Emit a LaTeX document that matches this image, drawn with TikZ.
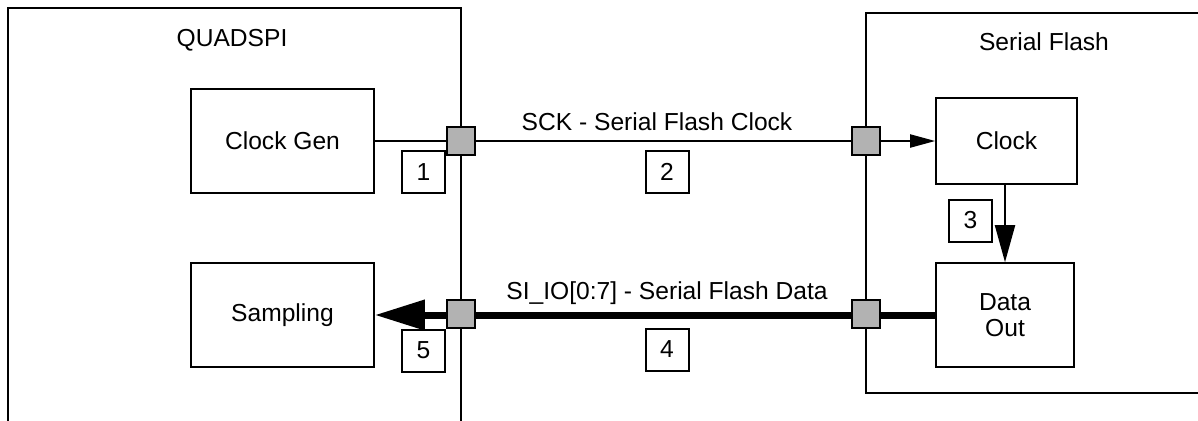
\documentclass[tikz,border=0pt]{standalone}
\usepackage{fontspec}
\setmainfont{Liberation Sans}
\usepackage{tikz}
\usetikzlibrary{arrows.meta}

\tikzset{
    block/.style={draw, line width=0.8pt, inner sep=0pt, align=center},
    tag/.style={draw, line width=1pt, minimum width=21.5pt, minimum height=21pt, inner sep=0pt},
    pad/.style={draw, line width=1pt, fill=black!30, minimum size=14pt, inner sep=0pt},
    wire/.style={line width=1pt},
    bus/.style={line width=3.5pt}
}

\begin{document}
\begin{tikzpicture}[x=0.5pt, y=-0.5pt, font=\fontsize{12.3}{13}\selectfont]
    \useasboundingbox (0, 0) rectangle (1198, 420);
    \clip (0, 0) rectangle (1198, 420);

    % QUADSPI side
    \draw[line width=1.3pt] (8, 8) rectangle (461, 450);
    \node (quadspi) at (232, 40) {QUADSPI};
    \node[block, minimum width=91.5pt, minimum height=52pt] (clockgen) at (282.5, 141) {Clock Gen};
    \node[block, minimum width=91.5pt, minimum height=52pt] (sampling) at (282.5, 315) {Sampling};

    % Serial Flash side
    \draw[line width=1.3pt] (866, 13) rectangle (1230, 393);
    \node (flash) at (1044, 42) {Serial Flash};
    \node[block, minimum width=70.5pt, minimum height=43pt] (clock) at (1006.5, 141) {Clock};
    \node[block, minimum width=69pt, minimum height=52pt] (dataout) at (1005, 315) {Data\\Out};

    % signals
    \draw[wire, -{Triangle[length=12.5pt, width=6.5pt]}] (clockgen.east) -- (clock.west);
    \draw[bus, -{Triangle[length=25pt, width=14.5pt]}] (dataout.west) -- (sampling.east);
    \draw[wire, -{Triangle[length=18.5pt, width=10pt]}] (dataout.north |- clock.south) -- (dataout.north);
    \node (sck) at (657, 122) {SCK - Serial Flash Clock};
    \node (sio) at (667, 293) {SI\_IO[0:7] - Serial Flash Data};

    % pads
    \node[pad] (padq1) at (461, 141) {};
    \node[pad] (padf1) at (866, 141) {};
    \node[pad] (padq2) at (461, 313.5) {};
    \node[pad] (padf2) at (866, 313.5) {};

    % step numbers
    \node[tag] (t1) at (423.5, 172) {1};
    \node[tag] (t2) at (667, 172) {2};
    \node[tag] (t3) at (970.5, 220.5) {3};
    \node[tag] (t4) at (667, 349.5) {4};
    \node[tag] (t5) at (423.5, 350.5) {5};
\end{tikzpicture}
\end{document}
